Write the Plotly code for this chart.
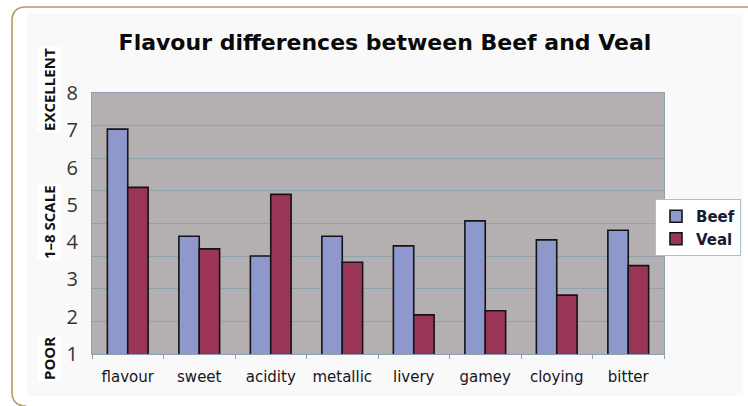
import plotly.graph_objects as go

categories = ["flavour", "sweet", "acidity", "metallic", "livery", "gamey", "cloying", "bitter"]
beef = [7.03, 4.16, 3.63, 4.16, 3.90, 4.57, 4.06, 4.32]
veal = [5.47, 3.82, 5.28, 3.46, 2.05, 2.16, 2.58, 3.37]
series_names = ["Beef", "Veal"]
y_tick_values = [1, 2, 3, 4, 5, 6, 7, 8]
side_labels = ["EXCELLENT", "1–8 SCALE", "POOR"]
title_text = "Flavour differences between Beef and Veal"

W, H = 748, 406
L, R, T, B = 92, 84, 93, 52
PW, PH = W - L - R, H - T - B


def fx(p):
    return (p - L) / PW


def fy(p):
    return (H - B - p) / PH


fig = go.Figure()
fig.add_trace(go.Bar(x=categories, y=beef, name=series_names[0],
                     marker=dict(color="#8F98CC", line=dict(color="#141414", width=1.6))))
fig.add_trace(go.Bar(x=categories, y=veal, name=series_names[1],
                     marker=dict(color="#9B3558", line=dict(color="#141414", width=1.6))))

shapes = [
    # off-white chart background
    dict(type="rect", xref="paper", yref="paper", layer="below",
         x0=fx(27), x1=fx(743), y0=fy(396), y1=fy(13),
         fillcolor="#FAF9F9", line=dict(width=0)),
    # grey plot area (drawn over the off-white rect, under gridlines)
    dict(type="rect", xref="paper", yref="paper", layer="below",
         x0=0, x1=1, y0=0, y1=1,
         fillcolor="#B4B0B2", line=dict(width=0)),
    # gold frame (left, top, rounded corners)
    dict(type="path", xref="paper", yref="paper", layer="below",
         path="M {a},{ty} L {c},{ty} Q {lx},{ty} {lx},{d} L {lx},{e} Q {lx},{by} {c},{by}".format(
             a=fx(748), c=fx(26), lx=fx(12), ty=fy(7), d=fy(21), e=fy(392), by=fy(406)),
         line=dict(color="#B59A62", width=1.6)),
]

annotations = []
side_y = [90, 222, 359]
for txt, yy in zip(side_labels, side_y):
    annotations.append(dict(text="<b>%s</b>" % txt, xref="paper", yref="paper",
                            x=fx(49), y=fy(yy),
                            textangle=-90, showarrow=False,
                            font=dict(family="Open Sans", size=15, color="#111111"),
                            bgcolor="#FFFFFF", borderpad=1,
                            xanchor="center", yanchor="middle"))

fig.update_layout(
    width=W, height=H,
    margin=dict(l=L, r=R, t=T, b=B, autoexpand=False),
    paper_bgcolor="#FFFFFF",
    plot_bgcolor="#B4B0B2",
    barmode="group", bargap=0.43, bargroupgap=0,
    title=dict(text="<b>%s</b>" % title_text, x=385 / W, xanchor="center",
               y=1 - 42 / H, yanchor="middle", yref="container",
               font=dict(family="DejaVu Sans", size=22, color="#0A0A0A")),
    xaxis=dict(showline=True, linecolor="#8FA1AC", linewidth=1.2, mirror=True,
               ticks="outside", tickson="boundaries", ticklen=4, tickcolor="#8FA1AC",
               tickfont=dict(family="DejaVu Sans", size=15, color="#15151F"),
               ticklabelstandoff=9, showgrid=False),
    yaxis=dict(range=[1, 8], tickvals=y_tick_values, showgrid=False,
               showline=True, linecolor="#8FA1AC", linewidth=1.2, mirror=True,
               ticks="", ticklabelstandoff=9, zeroline=False,
               tickfont=dict(family="Open Sans", size=20, color="#333333")),
    yaxis2=dict(range=[0, 8], dtick=1, overlaying="y", side="left", showgrid=True,
                gridcolor="#8FA3AE", gridwidth=1.2, showticklabels=False,
                showline=False, zeroline=False, ticks=""),
    legend=dict(x=fx(741), xanchor="right",
                y=fy(199), yanchor="top",
                bgcolor="#FFFFFF", bordercolor="#A9BFCB", borderwidth=1,
                font=dict(family="DejaVu Sans", size=15, color="#1A1A30", weight="bold"),
                itemwidth=30, tracegroupgap=2),
    shapes=shapes,
    annotations=annotations,
    showlegend=True,
)
# ghost trace so yaxis2 is rendered with its grid
fig.add_trace(go.Scatter(x=[categories[0]], y=[None], yaxis="y2", showlegend=False,
                         hoverinfo="skip", mode="markers"))

fig.write_html("out.html")
